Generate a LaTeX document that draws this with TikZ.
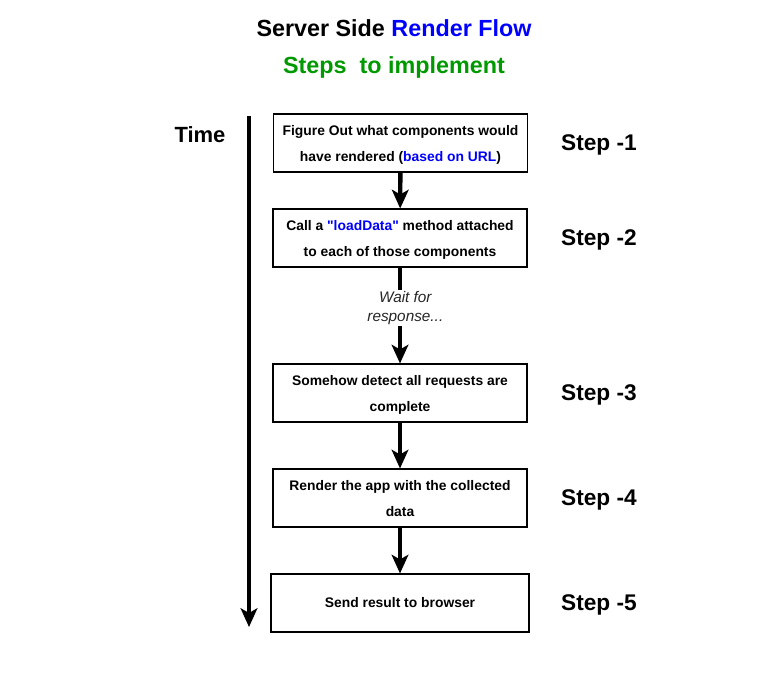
\documentclass[tikz,border=0pt]{standalone}
\usepackage{fontspec}
\setmainfont{Liberation Sans}[Ligatures=TeXOff]
\usetikzlibrary{arrows.meta}
\definecolor{stepgreen}{RGB}{0,153,0}
\definecolor{urlblue}{RGB}{0,0,255}
\newcommand{\boxlines}[1]{\raisebox{-3pt}{\begin{tabular}{@{}c@{}}#1\end{tabular}}}
\begin{document}
\begin{tikzpicture}[x=0.75pt, y=-0.75pt,
	stepbox/.style={draw, line width=0.8pt, minimum width=190.5pt, minimum height=43.5pt, align=center, inner sep=0pt, font=\bfseries\fontsize{10.4}{19.5}\selectfont},
	steplabel/.style={font=\bfseries\fontsize{17}{20}\selectfont},
	flow/.style={line width=3.3pt, -{Stealth[length=14pt, width=12.5pt, inset=3.5pt]}}]
	\useasboundingbox (0,0) rectangle (780,686);
	% titles
	\node (title) at (394,28) {\bfseries\fontsize{17.5}{20}\selectfont Server Side \textcolor{urlblue}{Render Flow}};
	\node (subtitle) at (394,67) {\bfseries\fontsize{17.5}{20}\selectfont\color{stepgreen}Steps\ \ to implement};
	% time axis
	\node (time) at (200,135) {\bfseries\fontsize{16.5}{20}\selectfont Time};
	\coordinate (t0) at (249,116);
	\coordinate (t1) at (249,627);
	\draw [flow] (t0) -- (t1);
	\begin{scope}[every node/.style={stepbox}]
		\node (1) at (400.5,143) {\boxlines{Figure Out what components would\\have rendered (\textcolor{urlblue}{based on URL})}};
		\node (2) at (400,238) {\boxlines{Call a \textcolor{urlblue}{"loadData"} method attached\\to each of those components}};
		\node (3) at (400,393) {\boxlines{Somehow detect all requests are\\complete}};
		\node (4) at (400,498) {\boxlines{Render the app with the collected\\data}};
		\node (5)[minimum width=193.5pt] at (400,603) {Send result to browser};
	\end{scope}
	\begin{scope}[every node/.style={steplabel}]
		\node (s1) at (599,145) {Step -1};
		\node (s2) at (599,240) {Step -2};
		\node (s3) at (599,395) {Step -3};
		\node (s4) at (599,500) {Step -4};
		\node (s5) at (599,605) {Step -5};
	\end{scope}
	\begin{scope}[every edge/.style={draw, flow}]
		\path (1) edge (2);
		\path (2) edge node[pos=0.42, xshift=4pt, fill=white, inner sep=1pt, align=center, font=\itshape\fontsize{11.5}{14.5}\selectfont, text=black!85] {Wait for\\response...} (3);
		\path (3) edge (4);
		\path (4) edge (5);
	\end{scope}
\end{tikzpicture}
\end{document}
